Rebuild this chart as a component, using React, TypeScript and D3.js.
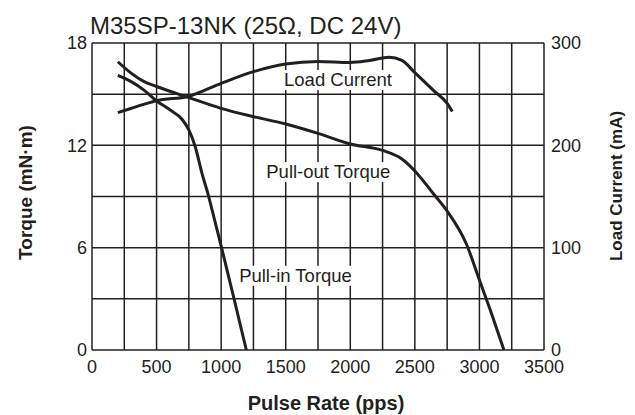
import React, { useEffect, useRef } from "react";
import * as d3 from "d3";

// torque curves (mN·m) vs pulse rate (pps)
const pullOutRate = [200, 300, 400, 500, 750, 1000, 1250, 1500, 1750, 2000, 2250, 2400, 2500, 2650, 2750, 2900, 3000, 3100, 3190];
const pullOutTorque = [16.9, 16.25, 15.75, 15.45, 14.8, 14.17, 13.68, 13.25, 12.7, 12.08, 11.7, 11.2, 10.5, 9.1, 8.15, 6.2, 4.1, 2.0, 0];

const pullInRate = [200, 300, 400, 500, 600, 700, 750, 800, 850, 900, 950, 1000, 1100, 1195];
const pullInTorque = [16.1, 15.75, 15.25, 14.6, 14.1, 13.5, 12.9, 11.9, 10.4, 9.1, 7.6, 6.1, 3.0, 0];

// load current (mA) vs pulse rate (pps)
const currentRate = [200, 300, 400, 500, 750, 1000, 1250, 1500, 1750, 2000, 2150, 2300, 2400, 2500, 2650, 2750, 2790];
const loadCurrent = [232, 236, 240, 243.6, 248, 260.6, 272, 279.5, 282, 281, 283, 286, 283, 271, 253, 241, 233];

const xTicks = [0, 500, 1000, 1500, 2000, 2500, 3000, 3500];
const torqueTicks = [0, 6, 12, 18];
const currentTicks = [0, 100, 200, 300];

const title = "M35SP-13NK (25\u03a9, DC 24V)";

export default function App() {
    const ref = useRef<SVGSVGElement | null>(null);

    useEffect(() => {
        const width = 635;
        const height = 415;
        const m = { left: 92, right: 91, top: 43, bottom: 65 };
        const ink = "#231f20";
        const font = "'Liberation Sans', Arial, Helvetica, sans-serif";

        const svg = d3.select(ref.current);
        svg.selectAll("*").remove();
        svg.attr("width", width).attr("height", height).style("font-family", font);

        svg.append("rect").attr("width", width).attr("height", height).attr("fill", "#fff");

        const x = d3.scaleLinear().domain([0, 3500]).range([m.left, width - m.right]);
        const yT = d3.scaleLinear().domain([0, 18]).range([height - m.bottom, m.top]);
        const yC = d3.scaleLinear().domain([0, 300]).range([height - m.bottom, m.top]);

        const g = svg.append("g");

        // grid
        g.selectAll("line.v")
            .data(d3.range(0, 3501, 250))
            .join("line")
            .attr("x1", (d) => x(d))
            .attr("x2", (d) => x(d))
            .attr("y1", yT(0))
            .attr("y2", yT(18))
            .attr("stroke", ink)
            .attr("stroke-width", 1.5);
        g.selectAll("line.h")
            .data(d3.range(0, 19, 3))
            .join("line")
            .attr("x1", x(0))
            .attr("x2", x(3500))
            .attr("y1", (d) => yT(d))
            .attr("y2", (d) => yT(d))
            .attr("stroke", ink)
            .attr("stroke-width", 1.5);

        // tick labels
        svg.append("g")
            .selectAll("text")
            .data(xTicks)
            .join("text")
            .attr("x", (d) => x(d))
            .attr("y", 372.5)
            .attr("text-anchor", "middle")
            .attr("font-size", 18)
            .attr("fill", ink)
            .text((d) => d);
        svg.append("g")
            .selectAll("text")
            .data(torqueTicks)
            .join("text")
            .attr("x", x(0) - 5)
            .attr("y", (d) => yT(d) + 6.4)
            .attr("text-anchor", "end")
            .attr("font-size", 18)
            .attr("fill", ink)
            .text((d) => d);
        svg.append("g")
            .selectAll("text")
            .data(currentTicks)
            .join("text")
            .attr("x", x(3500) + 7)
            .attr("y", (d) => yC(d) + 6.4)
            .attr("text-anchor", "start")
            .attr("font-size", 18)
            .attr("fill", ink)
            .text((d) => d);

        // curve labels with white boxes over the grid
        const labels = [
            { text: "Load Current", px: 1905, t: 15.48 },
            { text: "Pull-out Torque", px: 1830, t: 10.08 },
            { text: "Pull-in Torque", px: 1576, t: 4.0 },
        ];
        labels.forEach((l) => {
            const t = svg
                .append("text")
                .attr("x", x(l.px))
                .attr("y", yT(l.t))
                .attr("text-anchor", "middle")
                .attr("font-size", 18.5)
                .attr("fill", ink)
                .text(l.text);
            const bb = (t.node() as SVGTextElement).getBBox();
            svg.insert("rect", () => t.node() as SVGTextElement)
                .attr("x", bb.x - 3)
                .attr("y", bb.y + 1)
                .attr("width", bb.width + 6)
                .attr("height", bb.height - 1)
                .attr("fill", "#fff");
        });

        // curves
        const lineT = d3
            .line<[number, number]>()
            .x((d) => x(d[0]))
            .y((d) => yT(d[1]))
            .curve(d3.curveMonotoneX);
        const lineC = d3
            .line<[number, number]>()
            .x((d) => x(d[0]))
            .y((d) => yC(d[1]))
            .curve(d3.curveMonotoneX);

        const series = [
            lineT(d3.zip(pullOutRate, pullOutTorque) as [number, number][]),
            lineT(d3.zip(pullInRate, pullInTorque) as [number, number][]),
            lineC(d3.zip(currentRate, loadCurrent) as [number, number][]),
        ];
        svg.append("g")
            .selectAll("path")
            .data(series)
            .join("path")
            .attr("d", (d) => d as string)
            .attr("fill", "none")
            .attr("stroke", ink)
            .attr("stroke-width", 3)
            .attr("stroke-linejoin", "round");

        // titles
        svg.append("text")
            .attr("x", 90)
            .attr("y", 33.5)
            .attr("font-size", 24)
            .attr("fill", ink)
            .text(title);
        svg.append("text")
            .attr("x", 326)
            .attr("y", 410)
            .attr("text-anchor", "middle")
            .attr("font-size", 20)
            .attr("font-weight", "bold")
            .attr("fill", ink)
            .text("Pulse Rate (pps)");
        svg.append("text")
            .attr("transform", "translate(32,192.5) rotate(-90)")
            .attr("text-anchor", "middle")
            .attr("font-size", 19)
            .attr("font-weight", "bold")
            .attr("fill", ink)
            .text("Torque (mN\u00b7m)");
        svg.append("text")
            .attr("transform", "translate(621.5,186) rotate(-90)")
            .attr("text-anchor", "middle")
            .attr("font-size", 17)
            .attr("font-weight", "bold")
            .attr("fill", ink)
            .text("Load Current (mA)");
    }, []);

    return (
        <div style={{ position: "absolute", left: 0, top: 0 }}>
            <svg ref={ref}></svg>
        </div>
    );
}
